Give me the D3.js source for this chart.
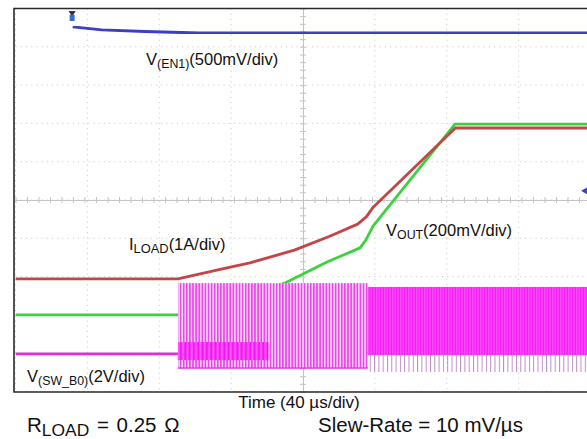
<!DOCTYPE html>
<meta charset="utf-8">
<style>
body { margin: 0; background: #fff; }
text { font-family: "Liberation Sans", Arial, sans-serif; fill: #111; }
.grid { stroke: #cfcfcf; stroke-width: 1; stroke-dasharray: 1.2,4; }
.axis line { stroke: #c4c4c4; }
.trace { fill: none; stroke-width: 2.8; stroke-linejoin: round; }
</style>
<body>
<script src="https://d3js.org/d3.v7.min.js"></script>
<script>
// scope screen: 40 us/div horizontally, levels in divisions (center = 0)
var timeDomain = [0, 400];
var levelDomain = [-5, 5];

// V(EN1) - blue
var enLowT = [0, 39.4];
var enLowV = [-0.97, -0.97];
var enHighT = [39.8, 45, 60, 90, 128, 250, 400];
var enHighV = [4.52, 4.5, 4.44, 4.4, 4.36, 4.36, 4.36];

// I(LOAD) - red
var iLoadT = [0, 113, 140, 163, 194, 219, 238, 244, 249, 306, 400];
var iLoadV = [-2.06, -2.06, -1.83, -1.64, -1.31, -0.94, -0.63, -0.44, -0.18, 1.88, 1.88];

// V(OUT) - green
var vOutT = [0, 113, 187.5, 216.7, 239.7, 243.8, 248.7, 305.7, 400];
var vOutV = [-3.0, -3.0, -2.17, -1.62, -1.25, -1.04, -0.68, 1.98, 1.98];

// V(SW_B0) - magenta
var swBaseT = [0, 113, null, 113, 245, null, 245, 400];
var swBaseV = [-4.02, -4.02, null, -4.37, -4.37, null, -4.0, -4.0];
var burstStart = [113, 245, 245, 113];
var burstEnd = [245, 400, 400, 176];
var burstHigh = [-2.17, -4.0, -2.27, -3.71];
var burstLow = [-4.37, -4.49, -4.05, -4.18];
var burstKind = ["sparse", "spikes", "dense", "band"];

var W = 587, H = 439;
var svg = d3.select("body").append("svg").attr("width", W).attr("height", H);

var x = d3.scaleLinear().domain(timeDomain).range([15.5, 590.5]);
var y = d3.scaleLinear().domain(levelDomain).range([391.5, 8.5]);

var defs = svg.append("defs");
defs.append("filter").attr("id", "fuzz")
    .append("feGaussianBlur").attr("stdDeviation", 0.55);
defs.append("clipPath").attr("id", "screen")
    .append("rect").attr("x", x(0)).attr("y", y(5)).attr("width", x(400) - x(0)).attr("height", y(-5) - y(5));

function pat(id, w, bar, color, bg) {
    var p = defs.append("pattern").attr("id", id).attr("patternUnits", "userSpaceOnUse")
        .attr("width", w).attr("height", 10);
    if (bg) p.append("rect").attr("width", w).attr("height", 10).attr("fill", bg);
    p.append("rect").attr("width", bar).attr("height", 10).attr("fill", color);
}
pat("sparse", 3.1, 1.7, "#ea48ea", "#fbdcfb");
pat("dense", 1.6, 0.7, "#ff55ff", "#f21ef2");
pat("band", 1.3, 0.6, "#ff66ff", "#f010f0");
pat("spikes", 4.3, 1, "#b98cc4", null);

// grid
var g = svg.append("g");
g.selectAll(".gx").data(x.ticks(10)).enter().append("line")
    .attr("class", "grid")
    .attr("x1", function(d) { return x(d); }).attr("x2", function(d) { return x(d); })
    .attr("y1", y(5)).attr("y2", y(-5));
g.selectAll(".gy").data(y.ticks(10)).enter().append("line")
    .attr("class", "grid")
    .attr("x1", x(0)).attr("x2", x(400))
    .attr("y1", function(d) { return y(d); }).attr("y2", function(d) { return y(d); });

// center cross with minor ticks
g.append("g").attr("class", "axis").attr("transform", "translate(0," + y(0) + ")")
    .call(d3.axisBottom(x).tickValues(d3.range(0, 401, 8)).tickSize(3).tickFormat("").tickSizeOuter(0))
    .call(function(a) { a.select(".domain").attr("stroke", "#c4c4c4"); });
g.append("g").attr("class", "axis").attr("transform", "translate(0," + y(0) + ")")
    .call(d3.axisTop(x).tickValues(d3.range(0, 401, 8)).tickSize(3).tickFormat("").tickSizeOuter(0))
    .call(function(a) { a.select(".domain").remove(); });
g.append("g").attr("class", "axis").attr("transform", "translate(" + x(200) + ",0)")
    .call(d3.axisLeft(y).tickValues(d3.range(-5, 5.01, 0.2)).tickSize(3).tickFormat("").tickSizeOuter(0))
    .call(function(a) { a.select(".domain").attr("stroke", "#c4c4c4"); });
g.append("g").attr("class", "axis").attr("transform", "translate(" + x(200) + ",0)")
    .call(d3.axisRight(y).tickValues(d3.range(-5, 5.01, 0.2)).tickSize(3).tickFormat("").tickSizeOuter(0))
    .call(function(a) { a.select(".domain").remove(); });

var traces = svg.append("g").attr("clip-path", "url(#screen)");

function zip(ts, vs) { return ts.map(function(t, i) { return [t, vs[i]]; }); }
var line = d3.line()
    .defined(function(d) { return d[0] !== null; })
    .x(function(d) { return x(d[0]); })
    .y(function(d) { return y(d[1]); });

function trace(ts, vs, color) {
    traces.append("path").datum(zip(ts, vs)).attr("class", "trace")
        .attr("stroke", color).attr("filter", "url(#fuzz)").attr("d", line);
}

trace(enLowT, enLowV, "#3c3cc8");
trace(enHighT, enHighV, "#3c3cc8");
trace(vOutT, vOutV, "#3dd23d");
trace(iLoadT, iLoadV, "#c44448");
trace(swBaseT, swBaseV, "#e22ee2");

traces.selectAll(".burst").data(burstKind).enter().append("rect")
    .attr("x", function(d, i) { return x(burstStart[i]); })
    .attr("width", function(d, i) { return x(burstEnd[i]) - x(burstStart[i]); })
    .attr("y", function(d, i) { return y(burstHigh[i]); })
    .attr("height", function(d, i) { return y(burstLow[i]) - y(burstHigh[i]); })
    .attr("fill", function(d) { return "url(#" + d + ")"; })
    .attr("filter", "url(#fuzz)");

// markers
svg.append("path").attr("d", d3.symbol(d3.symbolTriangle, 22)())
    .attr("transform", "translate(" + x(39.4) + "," + 13 + ") rotate(180)").attr("fill", "#335");
svg.append("rect").attr("x", x(39.4) - 2.5).attr("y", 15).attr("width", 5).attr("height", 6)
    .attr("fill", "#3a6fd0");
svg.append("path").attr("d", d3.symbol(d3.symbolTriangle, 20)())
    .attr("transform", "translate(" + 585 + "," + y(0.24) + ") rotate(-90)").attr("fill", "#3c3cc8");

// screen frame
svg.append("path")
    .attr("d", "M" + (W + 5) + "," + y(5) + "H" + (x(0) - 1.5) + "V" + (y(-5) + 0.5) + "H" + (W + 5))
    .attr("fill", "none").attr("stroke", "#2a2a2a").attr("stroke-width", 1.6);

// labels
function label(px, py, size, sub, parts) {
    var t = svg.append("text").attr("x", px).attr("y", py).style("font-size", size + "px");
    parts.forEach(function(p) {
        var s = t.append("tspan").text(p[0]);
        if (p[1]) s.style("font-size", (size * sub) + "px").attr("dy", size * 0.2);
        else if (p[2]) s.attr("dy", -size * 0.2);
    });
    return t;
}
label(146, 65, 16.5, 0.75, [["V"], ["(EN1)", 1], ["(500mV/div)", 0, 1]]);
label(129, 250, 16.5, 0.78, [["I"], ["LOAD", 1], ["(1A/div)", 0, 1]]);
label(386, 236, 16.5, 0.75, [["V"], ["OUT", 1], ["(200mV/div)", 0, 1]]);
label(27, 382, 16.5, 0.75, [["V"], ["(SW_B0)", 1], ["(2V/div)", 0, 1]]);

svg.append("text").attr("x", 299).attr("y", 408).attr("text-anchor", "middle")
    .style("font-size", "17px").text("Time (40 µs/div)");
label(27, 432, 20.5, 0.85, [["R"], ["LOAD", 1], [" = 0.25 Ω", 0, 1]])
    .style("word-spacing", "2px");
svg.append("text").attr("x", 318).attr("y", 432).style("font-size", "20.5px").text("Slew-Rate = 10 mV/µs");
</script>
</body>
